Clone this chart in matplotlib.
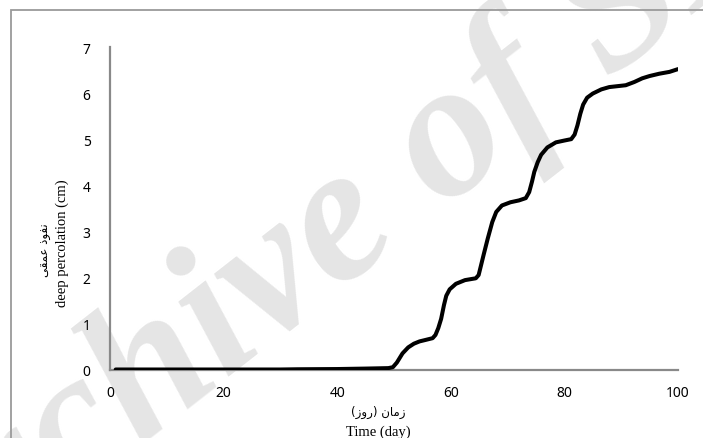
"""
Cumulative deep percolation over time, redrawn from a journal figure.
"""

import matplotlib
matplotlib.use("Agg")
import matplotlib.pyplot as plt
from matplotlib.patches import Rectangle


DAYS = [1, 10, 20, 30, 33, 40, 45, 49, 49.8, 50.5, 51.5, 52.5, 53.5, 54.5,
        55.5, 56.8, 57.3, 57.8, 58.3, 58.8, 59.2, 59.8, 60.9, 62.5, 64.4, 64.9,
        65.3, 65.8, 66.5, 67.3, 68.0, 69, 70.5, 72, 73.2, 73.8, 74.3, 74.7,
        75.3, 75.9, 77, 78.5, 80, 81.2, 81.8, 82.3, 82.8, 83.3, 84.0, 85, 86.5,
        87.9, 90.8, 92.3, 93.7, 95, 96.7, 98.5, 100]
PERCOLATION = [0, 0, 0, 0, 0.005, 0.01, 0.02, 0.03, 0.05, 0.15, 0.35, 0.48,
               0.56, 0.61, 0.64, 0.68, 0.75, 0.9, 1.1, 1.4, 1.6, 1.74, 1.86,
               1.94, 1.98, 2.05, 2.25, 2.5, 2.84, 3.2, 3.42, 3.56, 3.63, 3.67,
               3.72, 3.85, 4.08, 4.29, 4.5, 4.66, 4.82, 4.93, 4.97, 5.0, 5.1,
               5.3, 5.55, 5.75, 5.9, 5.99, 6.08, 6.13, 6.17, 6.24, 6.32, 6.37,
               6.42, 6.46, 6.52]

X_TICKS = [0, 20, 40, 60, 80, 100]
Y_TICKS = [0, 1, 2, 3, 4, 5, 6, 7]

X_LABEL_FA = "زمان (روز)"
X_LABEL_EN = "Time (day)"
Y_LABEL_FA = "نفوذ عمقی"
Y_LABEL_EN = "deep percolation (cm)"
WATERMARK = "Archive of SID"

# presentation forms: isolated, final, initial, medial (None = right-joining only)
FORMS = {
    "ن": ("\uFEE5", "\uFEE6", "\uFEE7", "\uFEE8"),
    "ف": ("\uFED1", "\uFED2", "\uFED3", "\uFED4"),
    "و": ("\uFEED", "\uFEEE", None, None),
    "ذ": ("\uFEAB", "\uFEAC", None, None),
    "ع": ("\uFEC9", "\uFECA", "\uFECB", "\uFECC"),
    "م": ("\uFEE1", "\uFEE2", "\uFEE3", "\uFEE4"),
    "ق": ("\uFED5", "\uFED6", "\uFED7", "\uFED8"),
    "ی": ("\uFEEF", "\uFEF0", "\uFEF3", "\uFEF4"),
    "ز": ("\uFEAF", "\uFEB0", None, None),
    "ا": ("\uFE8D", "\uFE8E", None, None),
    "ر": ("\uFEAD", "\uFEAE", None, None),
}
MIRROR = {"(": ")", ")": "("}


def shape_rtl(text: str) -> str:
    """Tiny Persian shaper: join letters, then lay the string out right to left."""
    out = []
    for i, ch in enumerate(text):
        if ch not in FORMS:
            out.append(MIRROR.get(ch, ch))
            continue
        prev = text[i - 1] if i > 0 else ""
        nxt = text[i + 1] if i + 1 < len(text) else ""
        joins_prev = prev in FORMS and FORMS[prev][2] is not None
        joins_next = FORMS[ch][2] is not None and nxt in FORMS
        iso, fin, ini, med = FORMS[ch]
        if joins_prev and joins_next:
            out.append(med)
        elif joins_prev:
            out.append(fin)
        elif joins_next:
            out.append(ini)
        else:
            out.append(iso)
    return "".join(reversed(out))


W, H = 703, 439
fig = plt.figure(figsize=(W / 100, H / 100), dpi=100)

# watermark sits behind everything
fig.text(-0.125, -0.44, WATERMARK, family="Liberation Serif", style="italic",
         weight="bold", fontsize=140, color="#e5e5e5", rotation=38,
         rotation_mode="anchor", ha="left", va="baseline", zorder=-5)

ax = fig.add_axes([110 / W, 1 - 370.5 / H, 568 / W, 322.5 / H])
ax.set_facecolor("none")
ax.plot(DAYS, PERCOLATION, color="black", lw=2.9, solid_capstyle="round",
        solid_joinstyle="round", zorder=3)

ax.set_xlim(0, 100)
ax.set_ylim(0, 7)
ax.set_xticks(X_TICKS)
ax.set_yticks(Y_TICKS)
for side in ("top", "right"):
    ax.spines[side].set_visible(False)
for side in ("left", "bottom"):
    ax.spines[side].set_color("#898989")
    ax.spines[side].set_linewidth(1.6)
ax.tick_params(length=0, labelsize=10, colors="black")
ax.tick_params(axis="y", pad=14)
ax.tick_params(axis="x", pad=11)
for lab in ax.get_xticklabels() + ax.get_yticklabels():
    lab.set_family("Noto Sans")

fig.text(378 / W, 1 - 412 / H, shape_rtl(X_LABEL_FA), family="DejaVu Sans",
         fontsize=8.5, ha="center", va="center")
fig.text(378 / W, 1 - 432 / H, X_LABEL_EN, family="Liberation Serif",
         fontsize=10.5, ha="center", va="center")
fig.text(45 / W, 1 - 250 / H, shape_rtl(Y_LABEL_FA), family="DejaVu Sans",
         fontsize=8.5, rotation=90, ha="center", va="center")
fig.text(62 / W, 1 - 243 / H, Y_LABEL_EN, family="Liberation Serif",
         fontsize=10.5, rotation=90, ha="center", va="center")

fig.patches.append(Rectangle((11 / W, -0.1), 1.2, 1 - 11 / H + 0.1,
                             transform=fig.transFigure, fill=False,
                             edgecolor="#9a9a9a", lw=1.3))

fig.savefig("out.png", dpi=100)
